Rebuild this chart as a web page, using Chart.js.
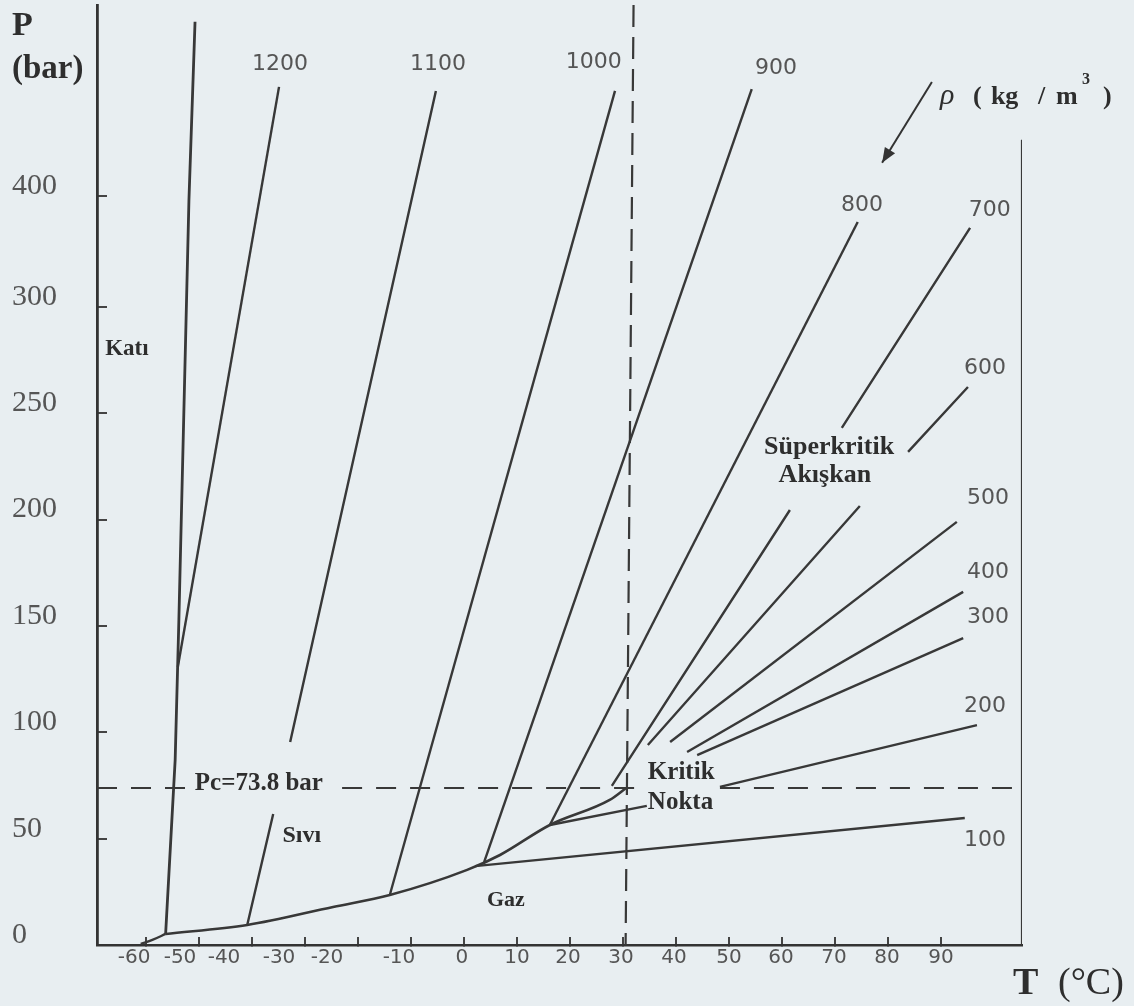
<!DOCTYPE html>
<html><head><meta charset="utf-8">
<script src="https://cdn.jsdelivr.net/npm/chart.js@4.4.1/dist/chart.umd.min.js"></script>
<style>html,body{margin:0;padding:0;background:#e8eef1;}canvas{display:block;background:#e8eef1;}</style>
</head><body>
<canvas id="c" width="1134" height="1006"></canvas>
<script>
// ---- axis ticks ----
const xTickValues = [-60,-50,-40,-30,-20,-10,0,10,20,30,40,50,60,70,80,90];
const xTickLabels = ['-60','-50','-40','-30','-20','-10','0','10','20','30','40','50','60','70','80','90'];
const yTickValues = [0,50,100,150,200,250,300,352];
const yTickLabels = ['0','50','100','150','200','250','300','400'];
// pixel shift of each x tick label from its tick (the original prints the negative labels crowded to the left)
const xLabelShiftPx = [-12,-19,-28,-26,-31,-12,-2,0,-2,-2,-2,0,-1,-1,-1,0];

// ---- phase boundaries (T in °C, P in axis units) ----
const sublimationT = [-61.0, -58.8, -56.3];
const sublimationP = [0.5, 2.4, 5.2];
const meltingT = [-56.3, -54.5, -53.8, -51.9, -50.75];
const meltingP = [5.2, 87.0, 152.8, 350.3, 434.0];
const vaporT = [-56.3, -40.9, -24.7, -14.0, 0.6, 6.8, 16.2, 27.5, 30.6];
const vaporP = [5.2, 9.4, 17.9, 23.5, 35.3, 42.3, 56.4, 68.2, 73.8];

// ---- isochores (kg/m3); null = break in the drawn line ----
const iso1200T = [-54.0, -34.9];            const iso1200P = [130.7, 403.4];
const iso1100T = [-40.9, -36.0, null, -32.8, -5.3]; const iso1100P = [9.4, 61.6, null, 95.4, 401.5];
const iso1000T = [-14.0, 28.5];             const iso1000P = [23.5, 401.5];
const iso900T  = [3.8, 54.3];               const iso900P  = [39.0, 402.4];
const iso800T  = [16.2, 74.3];              const iso800P  = [56.4, 339.9];
const iso700T  = [27.9, 61.5, null, 71.3, 95.5]; const iso700P = [74.8, 204.5, null, 243.1, 337.1];
const iso600T  = [34.7, 74.7, null, 83.8, 95.1]; const iso600P = [94.0, 206.4, null, 231.8, 262.3];
const iso500T  = [38.9, 93.0];              const iso500P  = [95.4, 198.9];
const iso400T  = [42.1, 94.2];              const iso400P  = [90.7, 166.0];
const iso300T  = [44.0, 94.2];              const iso300P  = [89.3, 144.3];
const iso200T  = [16.2, 34.5, null, 48.3, 96.8]; const iso200P = [56.4, 65.4, null, 74.3, 103.4];
const iso100T  = [2.1, 94.5];               const iso100P  = [37.1, 59.7];

// ---- critical lines ----
const tcLineT = [32.0, 30.5];
const tcLineP = [441.9, 0];
const pcLineT = [-69.25, -52.1, null, -23.0, 33.2, null, 48.3, 105.3];
const pcLineP = [73.8, 73.8, null, 73.8, 73.8, null, 73.8, 73.8];
const frameT = [105.3, 105.3];
const frameP = [0, 378.5];

// ---- labels ----
const densityLabelText = ['1200','1100','1000','900','800','700','600','500','400','300','200','100'];
const densityLabelT = [-34.7, -4.9, 24.5, 58.9, 75.1, 99.2, 98.3, 98.9, 98.9, 98.9, 98.3, 98.3];
const densityLabelP = [414.2, 414.2, 415.1, 412.3, 347.9, 345.6, 271.3, 210.2, 175.4, 154.2, 112.4, 49.4];
const regionLabelText = ['Katı','Sıvı','Gaz','Süperkritik','Akışkan','Kritik','Nokta','Pc=73.8 bar'];
const regionLabelT = [-67.7, -30.6, 7.9, 68.9, 68.1, 34.7, 34.7, -50.8];
const regionLabelP = [280.2, 51.2, 21.2, 234.1, 221.0, 81.3, 67.2, 75.7];
const regionLabelAlign = ['left','center','center','center','center','left','left','left'];
const regionLabelSize = [23, 24, 22, 26, 26, 25, 25, 25];
const arrowFromT = 88.3, arrowFromP = 405.7, arrowToT = 78.9, arrowToP = 367.7;

function pts(T, P) {
  return T.map((t, i) => (t === null ? {x: T[i-1], y: null} : {x: t, y: P[i]}));
}
const LINE = '#383838';
function ds(T, P, extra) {
  return Object.assign({data: pts(T, P), showLine: true, pointRadius: 0, borderColor: LINE,
    borderWidth: 2.4, fill: false, tension: 0, spanGaps: false}, extra || {});
}

const datasets = [
  ds(sublimationT, sublimationP, {cubicInterpolationMode: 'monotone'}),
  ds(meltingT, meltingP, {borderWidth: 2.8}),
  ds(vaporT, vaporP, {cubicInterpolationMode: 'monotone', borderWidth: 2.6}),
  ds(iso1200T, iso1200P), ds(iso1100T, iso1100P), ds(iso1000T, iso1000P), ds(iso900T, iso900P),
  ds(iso800T, iso800P), ds(iso700T, iso700P), ds(iso600T, iso600P), ds(iso500T, iso500P),
  ds(iso400T, iso400P), ds(iso300T, iso300P), ds(iso200T, iso200P), ds(iso100T, iso100P),
  ds(tcLineT, tcLineP, {borderDash: [22, 10], borderWidth: 2.2}),
  ds(pcLineT, pcLineP, {borderDash: [20, 14], borderWidth: 2}),
  ds(frameT, frameP, {borderWidth: 2.2})
];

const annotate = {
  id: 'annotate',
  afterDraw(chart) {
    const {ctx} = chart; const x = chart.scales.x, y = chart.scales.y;
    const ca = chart.chartArea;
    ctx.save();
    // x tick labels (from the axis ticks, with the original's label shifts)
    ctx.fillStyle = '#555'; ctx.font = '20px "DejaVu Sans"';
    ctx.textAlign = 'center'; ctx.textBaseline = 'middle';
    xTickValues.forEach((v, i) => ctx.fillText(xTickLabels[i], x.getPixelForValue(v) + xLabelShiftPx[i], ca.bottom + 13));
    // density labels
    ctx.font = '22px "DejaVu Sans"';
    densityLabelText.forEach((t, i) => ctx.fillText(t, x.getPixelForValue(densityLabelT[i]), y.getPixelForValue(densityLabelP[i])));
    // region labels
    ctx.fillStyle = '#2e2e2e';
    regionLabelText.forEach((t, i) => {
      ctx.font = 'bold ' + regionLabelSize[i] + 'px "Liberation Serif"';
      ctx.textAlign = regionLabelAlign[i];
      ctx.fillText(t, x.getPixelForValue(regionLabelT[i]), y.getPixelForValue(regionLabelP[i]));
    });
    // arrow to density lines
    const ax1 = x.getPixelForValue(arrowFromT), ay1 = y.getPixelForValue(arrowFromP);
    const ax2 = x.getPixelForValue(arrowToT), ay2 = y.getPixelForValue(arrowToP);
    ctx.strokeStyle = '#333'; ctx.lineWidth = 2;
    ctx.beginPath(); ctx.moveTo(ax1, ay1); ctx.lineTo(ax2, ay2); ctx.stroke();
    const ang = Math.atan2(ay2 - ay1, ax2 - ax1);
    ctx.fillStyle = '#333';
    ctx.beginPath(); ctx.moveTo(ax2, ay2);
    ctx.lineTo(ax2 - 15 * Math.cos(ang) + 6 * Math.sin(ang), ay2 - 15 * Math.sin(ang) - 6 * Math.cos(ang));
    ctx.lineTo(ax2 - 15 * Math.cos(ang) - 6 * Math.sin(ang), ay2 - 15 * Math.sin(ang) + 6 * Math.cos(ang));
    ctx.closePath(); ctx.fill();
    // rho label
    ctx.textAlign = 'left'; ctx.textBaseline = 'alphabetic'; ctx.fillStyle = '#2e2e2e';
    const rx = ax1 + 8, ry = 104;
    ctx.font = 'italic 30px "Liberation Serif"'; ctx.fillText('ρ', rx, ry);
    ctx.font = 'bold 26px "Liberation Serif"';
    ctx.fillText('(', rx + 33, ry);
    ctx.fillText('kg', rx + 51, ry);
    ctx.fillText('/', rx + 98, ry);
    ctx.fillText('m', rx + 116, ry);
    ctx.font = 'bold 16px "Liberation Serif"'; ctx.fillText('3', rx + 142, ry - 20);
    ctx.font = 'bold 26px "Liberation Serif"'; ctx.fillText(')', rx + 163, ry);
    // axis titles
    ctx.font = 'bold 34px "Liberation Serif"'; ctx.fillText('P', 12, 35);
    ctx.font = 'bold 33px "Liberation Serif"'; ctx.fillText('(bar)', 12, 78);
    ctx.font = 'bold 38px "Liberation Serif"'; ctx.fillText('T', ca.right - 9, 994);
    ctx.font = '38px "Liberation Serif"'; ctx.fillText('(°C)', ca.right + 36, 994);
    ctx.restore();
  }
};

function noPad(s) { s.paddingTop = 0; s.paddingBottom = 0; s.paddingLeft = 0; s.paddingRight = 0; }

new Chart(document.getElementById('c'), {
  type: 'scatter',
  data: {datasets},
  plugins: [annotate],
  options: {
    responsive: false, animation: false, devicePixelRatio: 1,
    layout: {padding: {left: 12, top: 5, right: 112, bottom: 0}},
    plugins: {legend: {display: false}, tooltip: {enabled: false}},
    scales: {
      x: {
        type: 'linear', min: -69.25, max: 105.3,
        afterBuildTicks: s => { s.ticks = xTickValues.map(v => ({value: v})); },
        afterFit: s => { s.height = 61; noPad(s); },
        ticks: {display: false, autoSkip: false, maxRotation: 0},
        grid: {drawOnChartArea: false, tickLength: -8, color: '#444', lineWidth: 2},
        border: {color: '#333', width: 2.5}
      },
      y: {
        type: 'linear', min: 0, max: 441.9,
        afterBuildTicks: s => { s.ticks = yTickValues.map(v => ({value: v})); },
        afterFit: s => { s.width = 85; noPad(s); },
        ticks: {callback: (v, i) => yTickLabels[i], font: {family: 'Liberation Serif', size: 30}, color: '#555',
          crossAlign: 'far', labelOffset: -10, autoSkip: false},
        grid: {drawOnChartArea: false, tickLength: -10, color: '#444', lineWidth: 2},
        border: {color: '#333', width: 2.8}
      }
    }
  }
});
</script>
</body></html>
